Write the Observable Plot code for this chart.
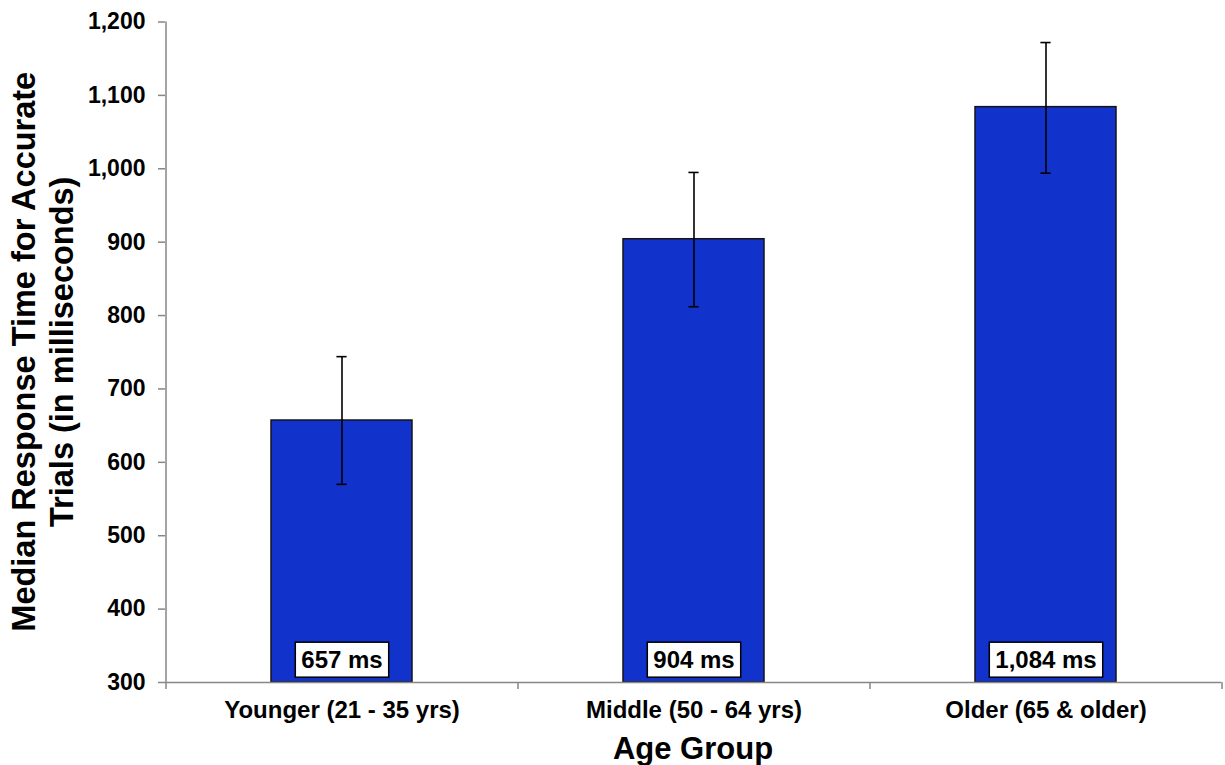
<!DOCTYPE html>
<html><head><meta charset="utf-8">
<script src="https://cdn.jsdelivr.net/npm/d3@7"></script>
<script src="https://cdn.jsdelivr.net/npm/@observablehq/plot@0.6"></script>
<style>html,body{margin:0;padding:0;background:#fff;} svg{display:block}</style>
</head><body><div id="chart"></div>
<script>
const categories = ["Younger (21 - 35 yrs)", "Middle (50 - 64 yrs)", "Older (65 & older)"];
const medians = [657, 904, 1084];
const errorLow = [570, 812, 994];
const errorHigh = [744, 995, 1172];
const valueLabels = ["657 ms", "904 ms", "1,084 ms"];
const yTicks = [300, 400, 500, 600, 700, 800, 900, 1000, 1100, 1200];
const yTitle = ["Median Response Time for Accurate", "Trials (in milliseconds)"];
const xTitle = "Age Group";

const data = categories.map((c, i) => ({category: c, median: medians[i], low: errorLow[i], high: errorHigh[i], label: valueLabels[i]}));

const W = 1225, H = 765, mL = 165, mR = 4, mT = 21.5, mB = 83;
const step = (W - mL - mR) / categories.length;
const bw = step * 0.4;
const capW = 10;
const yMin = yTicks[0], yMax = yTicks[yTicks.length - 1];
const axisGray = "#868686";

const chart = Plot.plot({
  width: W, height: H,
  marginLeft: mL, marginRight: mR, marginTop: mT, marginBottom: mB,
  style: {fontFamily: "'Liberation Sans', Arial, sans-serif", fontSize: "23px", fontWeight: "bold", color: "#000", background: "#fff"},
  x: {domain: categories, paddingInner: 0.6, paddingOuter: 0.3, label: null},
  y: {domain: [yMin, yMax], label: null},
  marks: [
    Plot.barY(data, {x: "category", y1: yMin, y2: "median", fill: "#1133CC", stroke: "#141414", strokeWidth: 1.5}),
    Plot.ruleX(data, {x: "category", y1: "low", y2: "high", stroke: "#000", strokeWidth: 1.6}),
    Plot.tickY(data, {x: "category", y: "low", insetLeft: (bw - capW) / 2, insetRight: (bw - capW) / 2, stroke: "#000", strokeWidth: 1.6}),
    Plot.tickY(data, {x: "category", y: "high", insetLeft: (bw - capW) / 2, insetRight: (bw - capW) / 2, stroke: "#000", strokeWidth: 1.6}),
    Plot.ruleY([yMin], {stroke: axisGray, strokeWidth: 1.5}),
    Plot.ruleX([categories[0]], {x: d => d, y1: yMin, y2: yMax, dx: -step / 2, stroke: axisGray, strokeWidth: 1.5}),
    Plot.axisY({ticks: yTicks, tickFormat: d3.format(","), tickSize: 7, tickPadding: 13, stroke: axisGray, fill: "#000", label: null, strokeWidth: 1.5}),
    Plot.axisX({tickSize: 0, tickPadding: 18, fontSize: 24, fill: "#000", label: null}),
    Plot.axisX({tickSize: 7, tickFormat: () => "", dx: -step / 2, stroke: axisGray, strokeWidth: 1.5, label: null}),
    Plot.axisX([categories[categories.length - 1]], {tickSize: 7, tickFormat: () => "", dx: step / 2, stroke: axisGray, strokeWidth: 1.5, label: null}),
    Plot.text(data, {x: "category", y: yMin, text: "label", dy: -22, fontSize: 24, fontWeight: "bold", fill: "#000"})
  ]
});
document.getElementById("chart").appendChild(chart);

// white boxes behind value labels
const svg = d3.select(chart);
svg.selectAll('g[aria-label="text"] text').each(function() {
  const bb = this.getBBox();
  const cy = bb.y + bb.height / 2;
  const rect = document.createElementNS("http://www.w3.org/2000/svg", "rect");
  rect.setAttribute("x", bb.x - 6);
  rect.setAttribute("y", cy - 17.5);
  rect.setAttribute("width", bb.width + 12);
  rect.setAttribute("height", 35);
  rect.setAttribute("fill", "#fff");
  rect.setAttribute("stroke", "#000");
  rect.setAttribute("stroke-width", 1.5);
  const t = this.getAttribute("transform");
  if (t) rect.setAttribute("transform", t);
  this.parentNode.insertBefore(rect, this);
});

// axis titles
const plotMidY = (mT + (H - mB)) / 2;
const plotMidX = (mL + (W - mR)) / 2;
const titleFont = "'Liberation Sans', Arial, sans-serif";
yTitle.forEach((line, i) => {
  svg.append("text")
    .attr("transform", `translate(${34.5 + i * 38},${plotMidY}) rotate(-90)`)
    .attr("text-anchor", "middle")
    .attr("font-family", titleFont)
    .attr("font-size", 32.5)
    .attr("font-weight", "bold")
    .attr("fill", "#000")
    .text(line);
});
svg.append("text")
  .attr("x", plotMidX).attr("y", 759)
  .attr("text-anchor", "middle")
  .attr("font-family", titleFont)
  .attr("font-size", 31)
  .attr("font-weight", "bold")
  .attr("fill", "#000")
  .text(xTitle);
</script>
</body></html>
